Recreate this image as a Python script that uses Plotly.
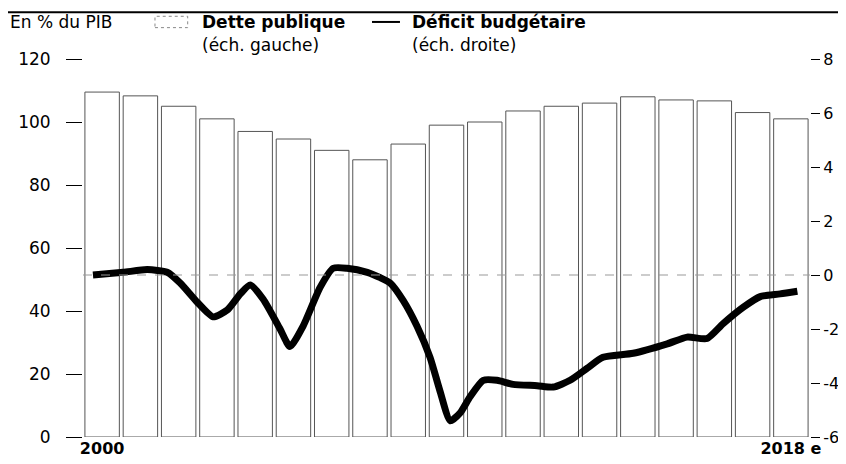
import plotly.graph_objects as go

# ---- data ----
years = list(range(2000, 2019))
dette = [109.5, 108.3, 105.0, 101.0, 97.0, 94.6, 91.0, 88.0, 93.0, 99.0,
         100.0, 103.5, 105.0, 106.0, 108.0, 107.0, 106.7, 103.0, 101.0]

deficit_t = [1999.76, 2000.55, 2001.18, 2001.70, 2002.04, 2002.48, 2002.90, 2003.27,
             2003.61, 2003.87, 2004.21, 2004.65, 2004.91, 2005.25, 2005.70, 2006.04,
             2006.40, 2006.93, 2007.27, 2007.53, 2007.87, 2008.23, 2008.57, 2008.83,
             2009.10, 2009.36, 2009.62, 2009.96, 2010.32, 2010.74, 2011.37, 2011.79,
             2012.23, 2012.68, 2013.09, 2013.88, 2014.77, 2015.29, 2015.81, 2016.23,
             2016.75, 2017.20, 2017.72, 2018.17]
deficit = [0.0, 0.1, 0.2, 0.1, -0.3, -1.0, -1.55, -1.3,
           -0.7, -0.37, -0.9, -2.0, -2.65, -1.9, -0.45, 0.25,
           0.25, 0.1, -0.1, -0.3, -0.95, -1.9, -3.05, -4.3,
           -5.4, -5.1, -4.5, -3.9, -3.9, -4.05, -4.1, -4.15,
           -3.9, -3.45, -3.05, -2.9, -2.55, -2.3, -2.35, -1.8,
           -1.2, -0.8, -0.7, -0.6]

left_ticks = [0, 20, 40, 60, 80, 100, 120]
right_ticks = [-6, -4, -2, 0, 2, 4, 6, 8]
right_ticktext = ["-6", "-4", "-2", "0", "2", "4", "6", "8"]
x_tickvals = [2000, 2018]
x_ticktext = ["<b>2000</b>", "<b>2018 e</b>"]

FONT = "DejaVu Sans"

fig = go.Figure()
fig.add_trace(go.Bar(
    x=years, y=dette, name="Dette publique",
    marker=dict(color="white", line=dict(color="#555555", width=1)),
    yaxis="y", showlegend=False,
))
fig.add_trace(go.Scatter(
    x=deficit_t, y=deficit, name="Déficit budgétaire", mode="lines",
    line=dict(color="black", width=7, shape="spline", smoothing=0.6),
    yaxis="y2", showlegend=False,
))

# the page body adds an 8px offset; margins compensate so the plot area sits
# at the same place as in the reference
fig.update_layout(
    width=846, height=464,
    margin=dict(l=75, r=44, t=51, b=35, autoexpand=False),
    paper_bgcolor="white", plot_bgcolor="white",
    bargap=0.1,
    font=dict(family=FONT, size=17, color="black"),
    xaxis=dict(range=[1999.5, 2018.5], tickvals=x_tickvals, ticktext=x_ticktext,
               showgrid=False, zeroline=False, showline=False, ticks="",
               tickfont=dict(size=16), automargin=False),
    yaxis=dict(range=[0, 120], tickvals=left_ticks, showgrid=False, zeroline=False,
               showline=False, ticks="outside", ticklen=16, tickcolor="black",
               tickwidth=1, ticklabelstandoff=12, tickfont=dict(size=17),
               automargin=False),
    yaxis2=dict(range=[-6, 8], tickvals=right_ticks, ticktext=right_ticktext,
                overlaying="y", side="right",
                showgrid=False, zeroline=False, showline=False, ticks="outside",
                ticklen=9, tickcolor="black", tickwidth=1, ticklabelstandoff=0,
                tickfont=dict(size=16), automargin=False),
)

shapes = [
    # top rule
    dict(type="line", xref="paper", yref="paper", x0=-0.1032, x1=1.048, y0=1.124, y1=1.124,
         line=dict(color="black", width=2)),
    # zero line of deficit
    dict(type="line", xref="paper", yref="y2", x0=0, x1=1, y0=0, y1=0,
         line=dict(color="#999999", width=1, dash="dash"), layer="above"),
    # legend symbol: dette (dotted box)
    dict(type="rect", xref="paper", yref="paper", x0=0.099, x1=0.144, y0=1.083, y1=1.113,
         line=dict(color="#888888", width=1, dash="dot"), fillcolor="white"),
    # legend symbol: deficit line
    dict(type="line", xref="paper", yref="paper", x0=0.3975, x1=0.436, y0=1.098, y1=1.098,
         line=dict(color="black", width=2)),
]
fig.update_layout(shapes=shapes)

ann = [
    dict(text="En % du PIB", x=-0.1032, y=1.098),
    dict(text="<b>Dette publique</b>", x=0.161, y=1.098),
    dict(text="(éch. gauche)", x=0.161, y=1.037),
    dict(text="<b>Déficit budgétaire</b>", x=0.4498, y=1.098),
    dict(text="(éch. droite)", x=0.4498, y=1.037),
]
for a in ann:
    fig.add_annotation(xref="paper", yref="paper", xanchor="left", yanchor="middle",
                       showarrow=False, font=dict(family=FONT, size=17, color="black"), **a)

fig.write_html("out.html")
